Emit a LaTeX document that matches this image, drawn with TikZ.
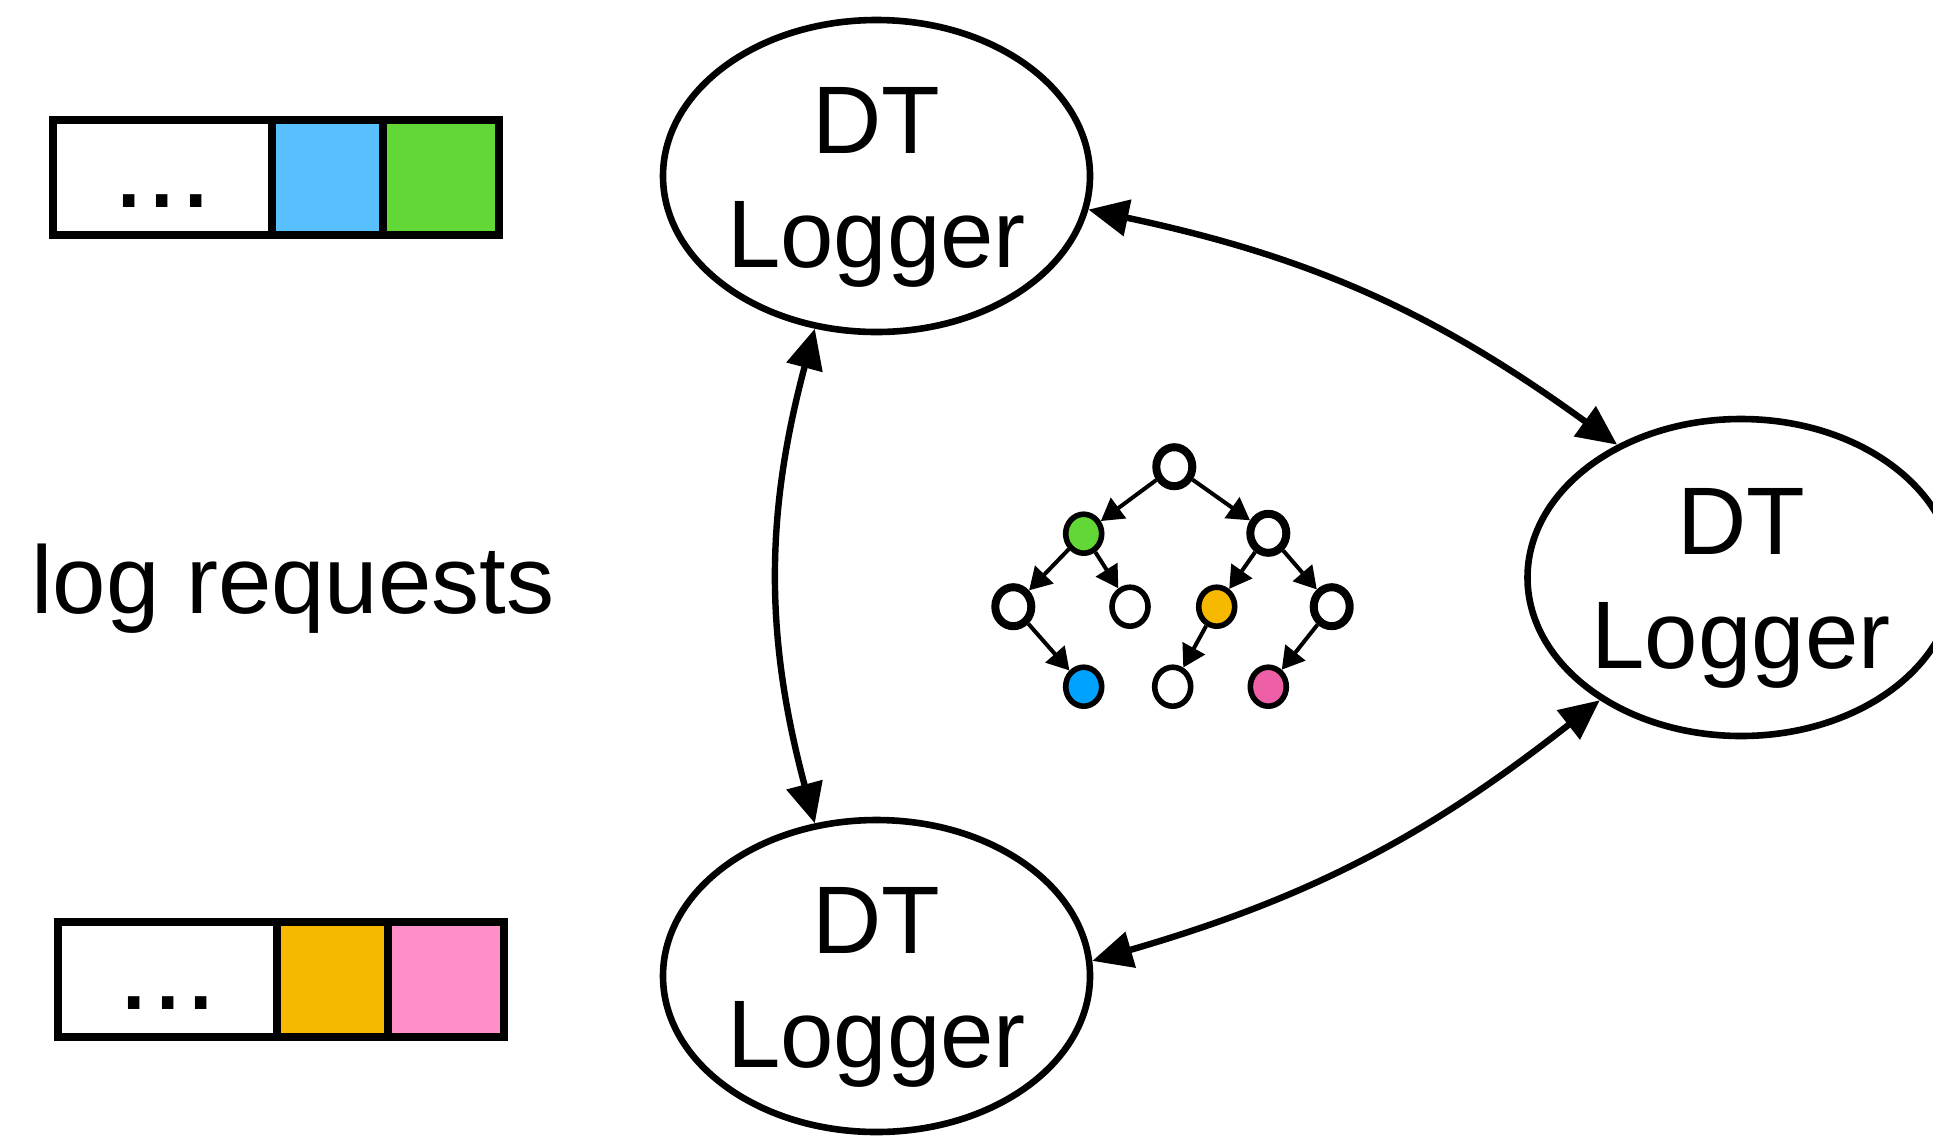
\documentclass[tikz,border=0pt]{standalone}
\usepackage{fontspec}
\setmainfont{Liberation Sans}
\usetikzlibrary{arrows.meta}
\usetikzlibrary{positioning}
\usetikzlibrary{shapes.geometric}

\definecolor{qblue}{HTML}{58C0FF}
\definecolor{qgreen}{HTML}{62D836}
\definecolor{qorange}{HTML}{F7B900}
\definecolor{qpink}{HTML}{FF8FC6}
\definecolor{tblue}{HTML}{00A2FF}
\definecolor{tpink}{HTML}{EF5FA7}

\begin{document}
\begin{tikzpicture}[x=0.5pt,y=-0.5pt,
	logger/.style={ellipse, draw, line width=3.3pt, minimum width=213.5pt, minimum height=156pt, inner sep=0pt, align=center, font=\fontsize{48}{57}\selectfont, text height=91.4pt, text depth=0pt},
	cell/.style={rectangle, draw, line width=4pt, inner sep=0pt, outer sep=0pt, minimum height=57.5pt},
	dots/.style={cell, minimum width=109.5pt, font=\fontsize{60}{60}\selectfont, text height=30pt, text depth=0pt},
	sync/.style={{Triangle[length=20pt,width=18pt]}-{Triangle[length=20pt,width=18pt]}, line width=3.2pt},
	tnode/.style={ellipse, draw, line width=2.8pt, minimum width=18pt, minimum height=19.5pt, inner sep=0pt},
	tinner/.style={tnode, line width=4pt},
	tedge/.style={-{Triangle[length=11pt,width=12.5pt]}, line width=2pt}]
					\useasboundingbox (0,0) rectangle (1933,1136);
					\node[logger] (dtTop) at (876.5,176) {DT\\Logger};
					\node[logger] (dtBot) at (876.5,976) {DT\\Logger};
					\node[logger, minimum height=158.5pt] (dtRight) at (1741,577.5) {DT\\Logger};
					\draw[sync] (dtTop.-9.6) to[bend left=12] (dtRight.133.6);
					\draw[sync] (dtTop.-112) to[bend right=15] (dtBot.112.7);
					\draw[sync] (dtBot.4.6) to[bend right=11] (dtRight.221.7);
					
					\node[dots] (qTop) at (162.5,177.5) {...};
					\node[cell, fill=qblue, minimum width=55.5pt, right=0pt of qTop] (qTopB) {};
					\node[cell, fill=qgreen, minimum width=58pt, right=0pt of qTopB] (qTopG) {};
					\node[dots] (qBot) at (167.7,979.2) {...};
					\node[cell, fill=qorange, minimum width=55.5pt, right=0pt of qBot] (qBotO) {};
					\node[cell, fill=qpink, minimum width=58pt, right=0pt of qBotO] (qBotP) {};
					\node[anchor=base west, inner sep=0pt, font=\fontsize{48}{57}\selectfont] (req) at (31,613) {log requests};
					
					\node[tinner] (root) at (1174.3,466.7) {};
					\node[tnode, fill=qgreen] (tG) at (1083.7,533.7) {};
					\node[tinner] (tA) at (1268.3,533.3) {};
					\node[tinner] (tB) at (1013.3,606.7) {};
					\node[tnode] (tW) at (1130,606.7) {};
					\node[tnode, fill=qorange] (tO) at (1216.7,606.7) {};
					\node[tinner] (tC) at (1331.7,606.7) {};
					\node[tnode, fill=tblue] (tLB) at (1083.7,686.7) {};
					\node[tnode] (tLW) at (1172.7,686.7) {};
					\node[tnode, fill=tpink] (tLP) at (1268.3,686.7) {};
					\draw[tedge] (root) -- (tG);
					\draw[tedge] (root) -- (tA);
					\draw[tedge] (tG) -- (tB);
					\draw[tedge] (tG) -- (tW);
					\draw[tedge] (tA) -- (tO);
					\draw[tedge] (tA) -- (tC);
					\draw[tedge] (tB) -- (tLB);
					\draw[tedge] (tO) -- (tLW);
					\draw[tedge] (tC) -- (tLP);
				\end{tikzpicture}
\end{document}
